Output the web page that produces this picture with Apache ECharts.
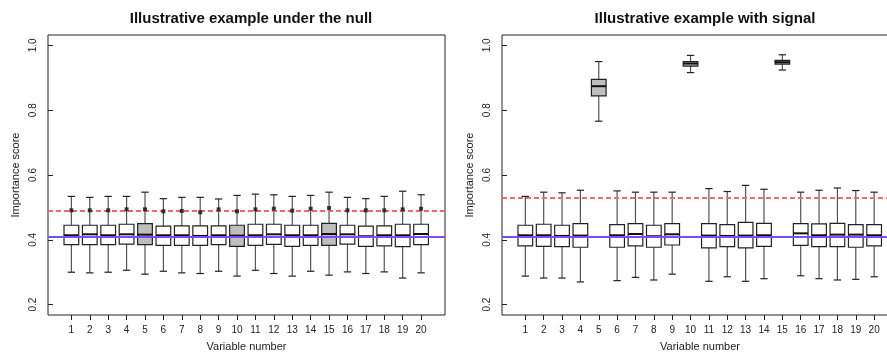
<!DOCTYPE html>
<html>
<head>
<meta charset="utf-8">
<script src="https://cdn.jsdelivr.net/npm/echarts@6/dist/echarts.min.js"></script>
<style>
  html, body { margin: 0; padding: 0; background: #fff; }
  #chart { width: 887px; height: 352px; }
</style>
</head>
<body>
<div id="chart"></div>
<script>
// variables 1..20
var variables = [1,2,3,4,5,6,7,8,9,10,11,12,13,14,15,16,17,18,19,20];
var shaded = [5, 10, 15];
var yTicks = [0.2, 0.4, 0.6, 0.8, 1.0];

// under the null
var nullUpper  = [0.534,0.531,0.534,0.534,0.547,0.527,0.531,0.531,0.526,0.537,0.541,0.539,0.534,0.537,0.547,0.531,0.527,0.534,0.550,0.539];
var nullQ3     = [0.445,0.445,0.445,0.448,0.450,0.442,0.443,0.443,0.443,0.445,0.448,0.448,0.445,0.445,0.451,0.445,0.442,0.443,0.448,0.448];
var nullMedian = [0.414,0.417,0.414,0.417,0.416,0.414,0.414,0.412,0.414,0.413,0.414,0.417,0.414,0.414,0.418,0.417,0.411,0.414,0.414,0.418];
var nullQ1     = [0.385,0.385,0.385,0.387,0.385,0.383,0.383,0.383,0.385,0.380,0.383,0.386,0.380,0.383,0.383,0.387,0.380,0.381,0.379,0.385];
var nullLower  = [0.300,0.298,0.300,0.306,0.294,0.303,0.298,0.296,0.303,0.288,0.306,0.296,0.288,0.303,0.291,0.301,0.296,0.301,0.282,0.298];
var nullMean   = [0.491,0.491,0.491,0.494,0.494,0.488,0.489,0.485,0.494,0.488,0.494,0.496,0.490,0.496,0.498,0.491,0.491,0.491,0.494,0.496];
var nullThreshold = 0.486;

// with signal (5, 10, 15 informative)
var sigUpper  = [0.534,0.547,0.545,0.553,0.950,0.551,0.547,0.547,0.547,0.969,0.558,0.549,0.568,0.556,0.971,0.547,0.553,0.560,0.552,0.547];
var sigQ3     = [0.445,0.448,0.445,0.450,0.895,0.447,0.450,0.445,0.450,0.950,0.450,0.447,0.454,0.451,0.954,0.450,0.449,0.451,0.447,0.447];
var sigMedian = [0.414,0.414,0.412,0.413,0.874,0.414,0.418,0.411,0.417,0.944,0.413,0.412,0.413,0.414,0.948,0.420,0.414,0.416,0.416,0.414];
var sigQ1     = [0.381,0.380,0.379,0.377,0.844,0.377,0.381,0.377,0.384,0.936,0.375,0.379,0.375,0.380,0.942,0.383,0.379,0.379,0.377,0.381];
var sigLower  = [0.288,0.282,0.282,0.270,0.766,0.274,0.284,0.276,0.294,0.916,0.272,0.286,0.272,0.280,0.924,0.289,0.280,0.276,0.278,0.286];
var sigThreshold = 0.534;

var baseline = 0.413;

var FONT = 'Liberation Sans, Arial, sans-serif';

function boxRows(lower, q1, med, q3, upper) {
  return variables.map(function (v, i) {
    return [v, lower[i], q1[i], med[i], q3[i], upper[i]];
  });
}

function renderBox(params, api) {
  var x = api.value(0);
  var pLow = api.coord([x, api.value(1)]);
  var pQ1 = api.coord([x, api.value(2)]);
  var pMed = api.coord([x, api.value(3)]);
  var pQ3 = api.coord([x, api.value(4)]);
  var pUp = api.coord([x, api.value(5)]);
  var w = api.size([0.8, 0])[0];
  var cx = pMed[0];
  var fill = shaded.indexOf(x) >= 0 ? '#bebebe' : '#ffffff';
  var dark = '#222';
  return {
    type: 'group',
    children: [
      { type: 'line', shape: { x1: cx, y1: pQ3[1], x2: cx, y2: pUp[1] }, style: { stroke: '#555', lineWidth: 1.2 } },
      { type: 'line', shape: { x1: cx, y1: pQ1[1], x2: cx, y2: pLow[1] }, style: { stroke: '#555', lineWidth: 1.2 } },
      { type: 'line', shape: { x1: cx - w / 4, y1: pUp[1], x2: cx + w / 4, y2: pUp[1] }, style: { stroke: dark, lineWidth: 1.2 } },
      { type: 'line', shape: { x1: cx - w / 4, y1: pLow[1], x2: cx + w / 4, y2: pLow[1] }, style: { stroke: dark, lineWidth: 1.2 } },
      { type: 'rect', shape: { x: cx - w / 2, y: pQ3[1], width: w, height: pQ1[1] - pQ3[1] }, style: { fill: fill, stroke: dark, lineWidth: 1.2 } },
      { type: 'line', shape: { x1: cx - w / 2, y1: pMed[1], x2: cx + w / 2, y2: pMed[1] }, style: { stroke: '#111', lineWidth: 2 } }
    ]
  };
}

function refLines(threshold) {
  return {
    silent: true,
    symbol: 'none',
    label: { show: false },
    data: [
      { yAxis: threshold, lineStyle: { color: '#ff6464', width: 2, type: [5, 3] } },
      { yAxis: baseline, lineStyle: { color: '#7a4cff', width: 2, type: 'solid' } }
    ]
  };
}

function xAxisFor(idx) {
  return {
    type: 'value', gridIndex: idx, min: -0.27, max: 21.3,
    name: 'Variable number', nameLocation: 'middle', nameGap: 26,
    nameTextStyle: { fontFamily: FONT, fontSize: 11, color: '#222' },
    axisLine: { show: false },
    axisTick: { show: true, length: 5, lineStyle: { color: '#222' }, customValues: variables },
    axisLabel: { fontFamily: FONT, fontSize: 10, color: '#222', margin: 10, customValues: variables },
    splitLine: { show: false }
  };
}

function yAxisFor(idx) {
  return {
    type: 'value', gridIndex: idx, min: 0.168, max: 1.032,
    name: 'Importance score', nameLocation: 'middle', nameGap: 27,
    nameTextStyle: { fontFamily: FONT, fontSize: 11, color: '#222' },
    axisLine: { show: false },
    axisTick: { show: true, length: 5, lineStyle: { color: '#222' }, customValues: yTicks },
    axisLabel: {
      fontFamily: FONT, fontSize: 10, color: '#222', rotate: 90, margin: 10,
      customValues: yTicks,
      formatter: function (v) { return v.toFixed(1); }
    },
    splitLine: { show: false }
  };
}

var myChart = echarts.init(document.getElementById('chart'));
var option = {
  backgroundColor: '#fff',
  animation: false,
  title: [
    { text: 'Illustrative example under the null', left: 246, top: 6, textAlign: 'center',
      textStyle: { fontFamily: FONT, fontSize: 15, fontWeight: 'bold', color: '#111' } },
    { text: 'Illustrative example with signal', left: 700, top: 6, textAlign: 'center',
      textStyle: { fontFamily: FONT, fontSize: 15, fontWeight: 'bold', color: '#111' } }
  ],
  grid: [
    { left: 48, top: 35, width: 397, height: 280, outerBoundsMode: 'none', containLabel: false,
      show: true, borderColor: '#222', borderWidth: 1, backgroundColor: 'transparent' },
    { left: 502, top: 35, width: 396, height: 280, outerBoundsMode: 'none', containLabel: false,
      show: true, borderColor: '#222', borderWidth: 1, backgroundColor: 'transparent' }
  ],
  xAxis: [xAxisFor(0), xAxisFor(1)],
  yAxis: [yAxisFor(0), yAxisFor(1)],
  series: [
    {
      type: 'custom', xAxisIndex: 0, yAxisIndex: 0,
      renderItem: renderBox,
      data: boxRows(nullLower, nullQ1, nullMedian, nullQ3, nullUpper),
      markLine: refLines(nullThreshold)
    },
    {
      type: 'scatter', xAxisIndex: 0, yAxisIndex: 0, z: 6,
      symbol: 'rect', symbolSize: 4,
      itemStyle: { color: '#111' },
      data: variables.map(function (v, i) { return [v, nullMean[i]]; })
    },
    {
      type: 'custom', xAxisIndex: 1, yAxisIndex: 1,
      renderItem: renderBox,
      data: boxRows(sigLower, sigQ1, sigMedian, sigQ3, sigUpper),
      markLine: refLines(sigThreshold)
    }
  ]
};
myChart.setOption(option);
</script>
</body>
</html>
